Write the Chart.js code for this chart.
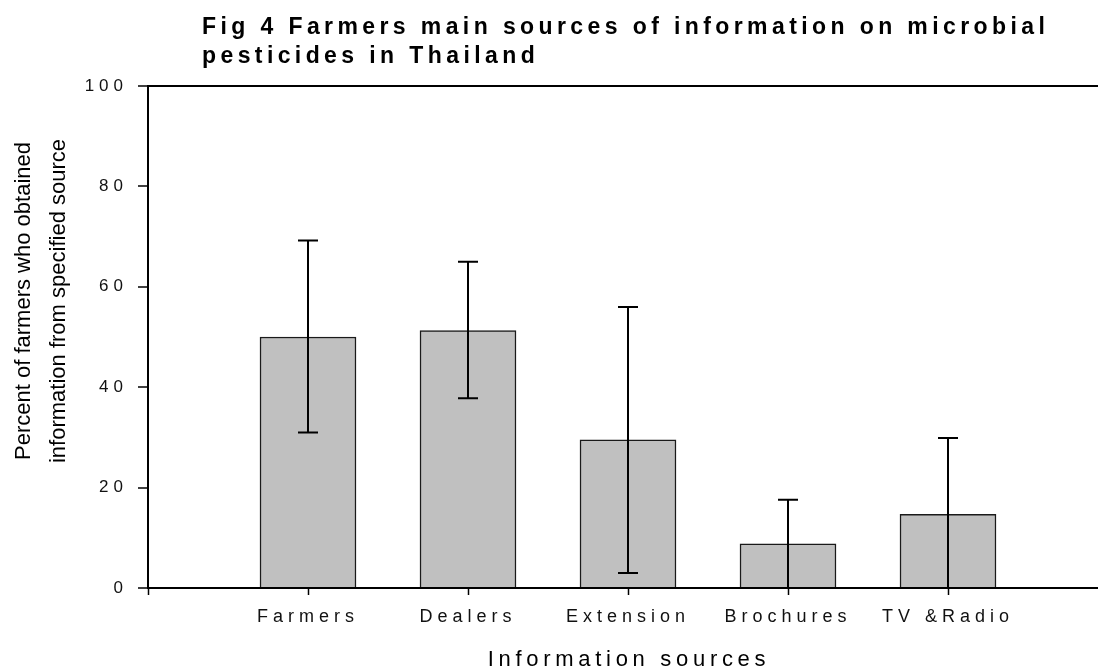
<!DOCTYPE html>
<html>
<head>
<meta charset="utf-8">
<title>Fig 4</title>
<script src="https://cdn.jsdelivr.net/npm/chart.js@4.4.1/dist/chart.umd.min.js"></script>
<style>
    html, body { margin: 0; padding: 0; background: #fff; }
    #wrap { width: 1098px; height: 668px; }
</style>
</head>
<body>
<div id="wrap"><canvas id="fig4Chart" width="1098" height="668"></canvas></div>
<script>
// データ
const categories = ['Farmers', 'Dealers', 'Extension', 'Brochures', 'TV &Radio'];
const percentValues = [50, 51.3, 29.5, 8.8, 14.7];
const errorLow = [31, 37.8, 3, 0, 0];
const errorHigh = [69.2, 65, 56, 17.6, 29.9];
const yTickValues = [0, 20, 40, 60, 80, 100];
const xTickValues = [0, 1, 2, 3, 4, 5];

const titleLines = ['Fig 4 Farmers main sources of information on microbial', 'pesticides in Thailand'];
const yTitleLines = ['Percent of farmers who obtained', 'information from specified source'];
const xTitle = 'Information sources';

const FONT = '"Liberation Sans", Arial, Helvetica, sans-serif';
Chart.defaults.font.family = FONT;

// エラーバー
const errorBars = {
    id: 'errorBars',
    afterDatasetsDraw(chart) {
        const { ctx, scales: { x, y } } = chart;
        ctx.save();
        ctx.strokeStyle = '#000';
        ctx.lineWidth = 2;
        categories.forEach((c, i) => {
            const px = Math.round(x.getPixelForValue(i + 1));
            const top = y.getPixelForValue(errorHigh[i]);
            const bottom = y.getPixelForValue(errorLow[i]);
            ctx.beginPath();
            ctx.moveTo(px, top);
            ctx.lineTo(px, bottom);
            ctx.moveTo(px - 10, top);
            ctx.lineTo(px + 10, top);
            ctx.moveTo(px - 10, bottom);
            ctx.lineTo(px + 10, bottom);
            ctx.stroke();
        });
        ctx.restore();
    }
};

// タイトル・軸タイトル
const figureText = {
    id: 'figureText',
    beforeDraw(chart) {
        chart.ctx.letterSpacing = '5px';
    },
    afterDraw(chart) {
        const { ctx, scales: { x } } = chart;
        ctx.save();
        ctx.fillStyle = '#000';

        ctx.font = 'bold 23px ' + FONT;
        ctx.letterSpacing = '4.4px';
        ctx.textAlign = 'left';
        ctx.textBaseline = 'alphabetic';
        titleLines.forEach((t, i) => ctx.fillText(t, 202, 34 + i * 29));

        ctx.font = '22px ' + FONT;
        ctx.letterSpacing = '4.7px';
        ctx.textAlign = 'center';
        ctx.fillText(xTitle, x.getPixelForValue(3) + 1, 666);

        ctx.letterSpacing = '0px';
        ctx.textBaseline = 'middle';
        ctx.translate(0, 301);
        ctx.rotate(-Math.PI / 2);
        ctx.fillText(yTitleLines[0], 0, 24);
        ctx.fillText(yTitleLines[1], 0, 59);
        ctx.restore();
    }
};

const ctx = document.getElementById('fig4Chart').getContext('2d');
const chart = new Chart(ctx, {
    type: 'bar',
    data: {
        datasets: [{
            data: categories.map((c, i) => ({ x: i + 1, y: percentValues[i] })),
            backgroundColor: '#c0c0c0',
            borderColor: '#1a1a1a',
            borderWidth: 1.5,
            barThickness: 96
        }]
    },
    options: {
        responsive: false,
        animation: false,
        devicePixelRatio: 1,
        layout: {
            padding: { top: 86, right: 0, bottom: 0, left: 0 }
        },
        plugins: {
            legend: { display: false },
            tooltip: { enabled: false }
        },
        scales: {
            x: {
                type: 'linear',
                min: 0,
                max: 5.9375,
                offset: false,
                z: 1,
                afterBuildTicks: scale => {
                    scale.ticks = xTickValues.map(v => ({ value: v }));
                },
                afterFit: scale => {
                    scale.height = 80;
                },
                grid: {
                    offset: false,
                    drawOnChartArea: false,
                    drawTicks: true,
                    tickLength: 7,
                    tickColor: '#000',
                    tickWidth: 1.5
                },
                border: { display: true, color: '#000', width: 2 },
                ticks: {
                    autoSkip: false,
                    maxRotation: 0,
                    padding: 11,
                    color: '#111',
                    font: { size: 18 },
                    callback: value => categories[value - 1] || ''
                }
            },
            y: {
                min: 0,
                max: 100,
                z: 1,
                afterBuildTicks: scale => {
                    scale.ticks = yTickValues.map(v => ({ value: v }));
                },
                afterFit: scale => {
                    scale.width = 148;
                },
                grid: {
                    drawOnChartArea: true,
                    color: c => (c.tick && c.tick.value === 100 ? '#000' : 'rgba(0,0,0,0)'),
                    lineWidth: 2,
                    tickLength: 10,
                    tickColor: '#000',
                    tickWidth: 1.5
                },
                border: { display: true, color: '#000', width: 2 },
                ticks: {
                    padding: 10,
                    color: '#111',
                    font: { size: 17 }
                }
            }
        }
    },
    plugins: [errorBars, figureText]
});
</script>
</body>
</html>
